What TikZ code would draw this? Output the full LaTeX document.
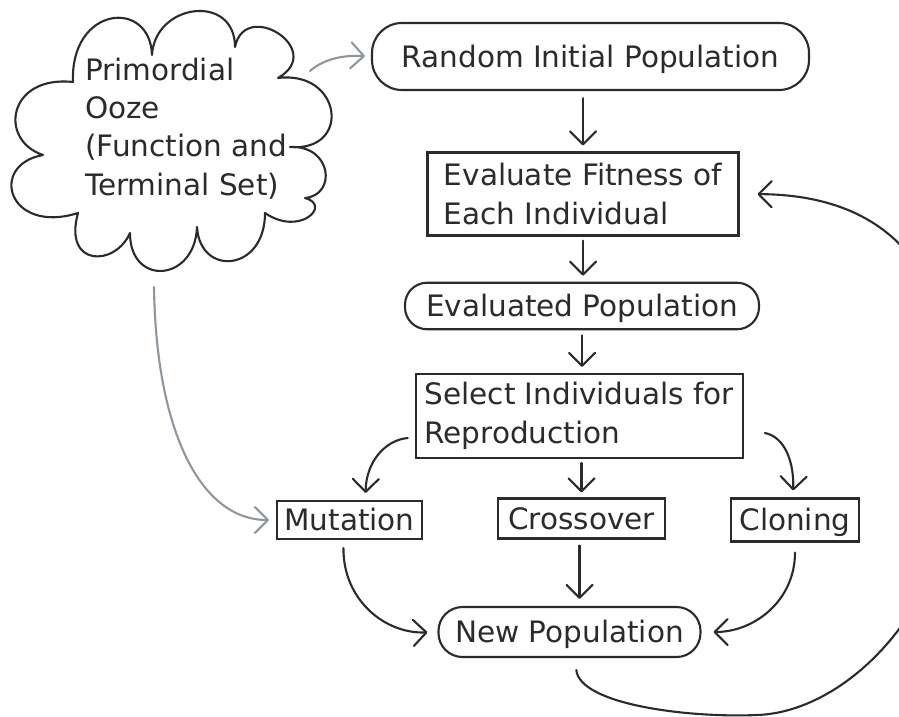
\documentclass[tikz,border=0pt]{standalone}
\usepackage{fontspec}
\setmainfont{DejaVu Sans}
\usetikzlibrary{arrows.meta}
\definecolor{ink}{HTML}{2B2B2B}
\definecolor{haze}{HTML}{8E979E}
\begin{document}
\begin{tikzpicture}[x=1pt,y=-1pt,
  every node/.style={font=\fontsize{29.5}{38.4}\selectfont, text=ink, inner sep=0pt},
  capline/.style={text height=21.5pt, text depth=0pt},
  link/.style={draw=ink, line width=2.1pt, line cap=round, -{Straight Barb[length=13pt,width=26pt,round]}},
  glink/.style={link, draw=haze},
  sqbox/.style={draw=ink, line width=2.1pt, rectangle},
  pill/.style={draw=ink, line width=2.1pt, rectangle, rounded corners=#1},
]
\fill[white] (0,0) rectangle (899,717);
\useasboundingbox (0,0) rectangle (899,717);

% cloud
\draw[ink, line width=2.1pt, line join=round]
  (73,82) .. controls (70,6) and (150,-2) .. (152,55)
  .. controls (155,3) and (235,-7) .. (235,47)
  .. controls (245,-2) and (327,50) .. (278,78)
  .. controls (342,70) and (352,152) .. (290,147)
  .. controls (332,145) and (337,195) .. (305,198)
  .. controls (332,205) and (300,237) .. (265,213)
  .. controls (265,272) and (200,277) .. (197,227)
  .. controls (195,282) and (130,287) .. (130,233)
  .. controls (115,267) and (63,267) .. (78,213)
  .. controls (8,235) and (-12,165) .. (43,155)
  .. controls (-2,140) and (8,75) .. cycle;
\node[anchor=west, align=left] (ooze) at (85,128.5) {Primordial\\Ooze\\(Function and\\Terminal Set)};
\coordinate (cl1) at (310,71);
\coordinate (cl2) at (154,287);

% nodes
\node[pill=30pt, capline, minimum width=437pt, minimum height=67pt] (rip) at (590.5,56.5) {Random Initial Population};
\node[sqbox, minimum width=311pt, minimum height=83pt, align=left] (eval) at (583,194) {Evaluate Fitness of\\Each Individual};
\node[pill=22pt, capline, minimum width=354pt, minimum height=46.5pt] (evp) at (582,306) {Evaluated Population};
\node[sqbox, minimum width=327pt, minimum height=84pt, align=left] (sel) at (579.3,416) {Select Individuals for\\Reproduction};
\node[sqbox, capline, minimum width=145pt, minimum height=38pt] (mut) at (349.5,520) {Mutation};
\node[sqbox, capline, minimum width=167pt, minimum height=40pt] (cro) at (581.5,518.5) {Crossover};
\node[sqbox, capline, minimum width=128pt, minimum height=43pt] (clo) at (795,520) {Cloning};
\node[pill=24pt, capline, minimum width=262pt, minimum height=50pt] (newp) at (569.5,632) {New Population};

% connectors
\draw[glink, shorten >=6pt] (cl1) .. controls (325,58) and (345,55) .. (rip.west);
\draw[glink, shorten >=7pt] (cl2) .. controls (156,430) and (200,520) .. (mut.west);
\draw[link, shorten <=7pt, shorten >=6pt] (eval.north |- rip.south) -- (eval.north);
\draw[link, shorten <=4pt, shorten >=6pt] (eval.south) -- (eval.south |- evp.north);
\draw[link, shorten <=5pt, shorten >=6pt] (evp.south) -- (evp.south |- sel.north);
\draw[link, shorten >=7pt] ([xshift=-7pt,yshift=-22pt]sel.west) .. controls (385,440) and (366,462) .. ([xshift=16pt]mut.north);
\draw[link, shorten <=4pt, shorten >=5pt] (sel.south -| cro.north) -- (cro.north);
\draw[link, shorten >=7pt] ([xshift=21pt,yshift=-17pt]sel.east) .. controls (785,437) and (794,462) .. ([xshift=-2pt]clo.north);
\draw[link, shorten <=8pt, shorten >=10pt] ([xshift=-6pt]mut.south) .. controls (343,600) and (385,634) .. (newp.west);
\draw[link, shorten <=6pt, shorten >=7pt] ([xshift=-2pt]cro.south) -- ([xshift=-2pt]cro.south |- newp.north);
\draw[link, shorten <=10pt, shorten >=12pt] (clo.south) .. controls (795,600) and (755,632) .. (newp.east);
\draw[link, shorten <=12pt, shorten >=18pt] ([xshift=5.5pt]newp.south) .. controls (580,705) and (690,718) .. (757,715)
  .. controls (850,712) and (960,600) .. (960,440) .. controls (960,290) and (905,195) .. (eval.east);
\end{tikzpicture}
\end{document}
